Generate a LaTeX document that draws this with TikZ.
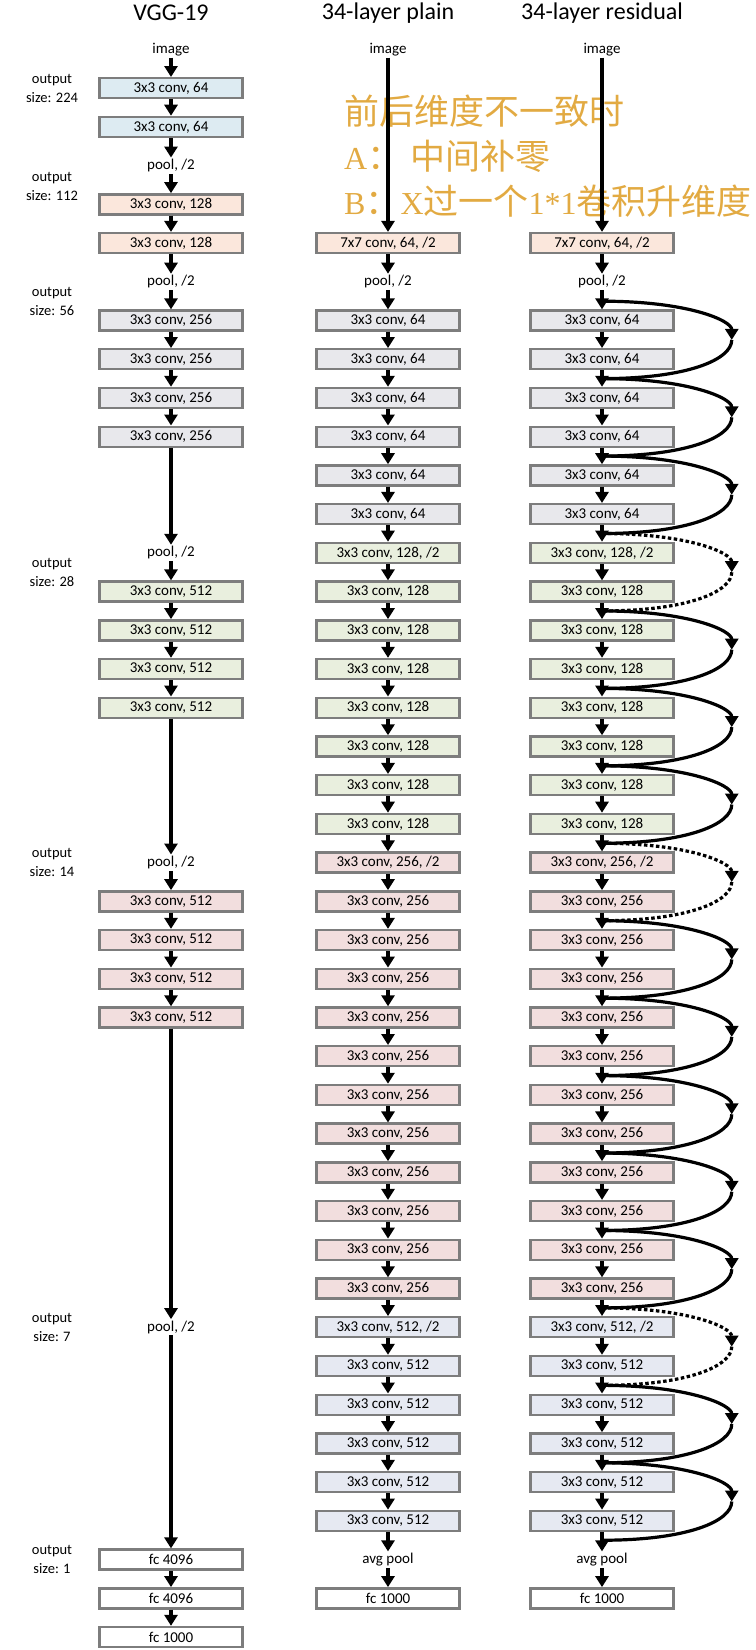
\documentclass[tikz,border=0pt]{standalone}
\usepackage{fontspec}
\setmainfont{Carlito}
\newfontfamily\cjk{Noto Sans CJK SC}
\newfontfamily\noteserif{Liberation Serif}
\usetikzlibrary{arrows.meta}

\definecolor{boxline}{RGB}{125,125,125}
\definecolor{cblue}{RGB}{221,235,242}
\definecolor{cpeach}{RGB}{251,231,220}
\definecolor{cgray}{RGB}{232,232,236}
\definecolor{cgreen}{RGB}{233,239,222}
\definecolor{cpink}{RGB}{242,222,222}
\definecolor{clav}{RGB}{230,233,242}
\definecolor{notegold}{RGB}{226,170,66}

\newcommand\notelatin[1]{{\noteserif\fontsize{32}{45}\selectfont #1}}

\tikzset{
  convbox/.style={draw=boxline, line width=2.4pt, minimum width=143pt,
    minimum height=20pt, inner sep=0pt, font=\fontsize{15}{16}\selectfont},
  tag/.style={inner sep=1.5pt, font=\fontsize{15}{16}\selectfont},
  outlbl/.style={align=center, inner sep=0pt, font=\fontsize{14.5}{19}\selectfont},
  title/.style={font=\fontsize{24}{28}\selectfont},
  shortcut/.style={line width=3.2pt},
  fwd/.style={shortcut, -{Triangle[width=13pt,length=11pt]}},
  zeropad/.style={dash pattern=on 3.5pt off 2.5pt},
}

\begin{document}
\begin{tikzpicture}[x=1pt, y=-38.72pt]
  \useasboundingbox (0,-1.2784) rectangle (755,41.335);

  % titles
  \node[title] (tvgg) at (171,-0.953) {VGG-19};
  \node[title] (tplain) at (388,-0.953) {34-layer plain};
  \node[title] (tres) at (602,-0.953) {34-layer residual};

  % note
  \node[anchor=west, align=left, inner sep=0pt, text=notegold,
        font=\cjk\fontsize{35}{45}\selectfont] (note) at (344,2.75)
    {前后维度不一致时\\\notelatin{A}： 中间补零\\\notelatin{B}：\notelatin{X}过一个\notelatin{1*1}卷积升维度};

  % output sizes
  \node[outlbl] (o224) at (52,1) {output\\size: 224};
  \node[outlbl] (o112) at (52,3.55) {output\\size: 112};
  \node[outlbl] (o56) at (52,6.52) {output\\size: 56};
  \node[outlbl] (o28) at (52,13.5) {output\\size: 28};
  \node[outlbl] (o14) at (52,21) {output\\size: 14};
  \node[outlbl] (o7) at (52,33) {output\\size: 7};
  \node[outlbl] (o1) at (52,39) {output\\size: 1};

  % VGG-19
  \node[tag] (v0) at (171,0) {image};
  \node[convbox, fill=cblue] (v1) at (171,1) {3x3 conv, 64};
  \node[convbox, fill=cblue] (v2) at (171,2) {3x3 conv, 64};
  \node[tag] (v3) at (171,3) {pool, /2};
  \node[convbox, fill=cpeach] (v4) at (171,4) {3x3 conv, 128};
  \node[convbox, fill=cpeach] (v5) at (171,5) {3x3 conv, 128};
  \node[tag] (v6) at (171,6) {pool, /2};
  \foreach \r in {7,...,10}
    \node[convbox, fill=cgray] (v\r) at (171,\r) {3x3 conv, 256};
  \node[tag] (v13) at (171,13) {pool, /2};
  \foreach \r in {14,...,17}
    \node[convbox, fill=cgreen] (v\r) at (171,\r) {3x3 conv, 512};
  \node[tag] (v21) at (171,21) {pool, /2};
  \foreach \r in {22,...,25}
    \node[convbox, fill=cpink] (v\r) at (171,\r) {3x3 conv, 512};
  \node[tag] (v33) at (171,33) {pool, /2};
  \node[convbox, fill=white] (v39) at (171,39) {fc 4096};
  \node[convbox, fill=white] (v40) at (171,40) {fc 4096};
  \node[convbox, fill=white] (v41) at (171,41) {fc 1000};

  \foreach \a/\b in {0/1,1/2,2/3,3/4,4/5,5/6,6/7,7/8,8/9,9/10,10/13,13/14,14/15,
      15/16,16/17,17/21,21/22,22/23,23/24,24/25,25/33,33/39,39/40,40/41}
    \draw[fwd] (v\a) -- (v\b);

  % 34-layer plain and residual
  \foreach \c/\x in {p/388, r/602} {
    \node[tag] (\c0) at (\x,0) {image};
    \node[convbox, fill=cpeach] (\c5) at (\x,5) {7x7 conv, 64, /2};
    \node[tag] (\c6) at (\x,6) {pool, /2};
    \foreach \r in {7,...,12}
      \node[convbox, fill=cgray] (\c\r) at (\x,\r) {3x3 conv, 64};
    \node[convbox, fill=cgreen] (\c13) at (\x,13) {3x3 conv, 128, /2};
    \foreach \r in {14,...,20}
      \node[convbox, fill=cgreen] (\c\r) at (\x,\r) {3x3 conv, 128};
    \node[convbox, fill=cpink] (\c21) at (\x,21) {3x3 conv, 256, /2};
    \foreach \r in {22,...,32}
      \node[convbox, fill=cpink] (\c\r) at (\x,\r) {3x3 conv, 256};
    \node[convbox, fill=clav] (\c33) at (\x,33) {3x3 conv, 512, /2};
    \foreach \r in {34,...,38}
      \node[convbox, fill=clav] (\c\r) at (\x,\r) {3x3 conv, 512};
    \node[tag] (\c39) at (\x,39) {avg pool};
    \node[convbox, fill=white] (\c40) at (\x,40) {fc 1000};

    \draw[fwd] (\c0) -- (\c5);
    \foreach \r [count=\s from 6] in {5,...,39}
      \draw[fwd] (\c\r) -- (\c\s);
  }

  % shortcuts: j = junction on the main path, m = far point of the arc
  \foreach \k in {7,9,...,39}
    \coordinate (j\k) at (602,\k-0.5);
  \foreach \k in {7,9,...,37}
    \coordinate (m\k) at (731.75,\k+0.5);
  \foreach \a/\b/\dash in {7/9/solid,9/11/solid,11/13/solid,13/15/zeropad,
      15/17/solid,17/19/solid,19/21/solid,21/23/zeropad,23/25/solid,25/27/solid,
      27/29/solid,29/31/solid,31/33/solid,33/35/zeropad,35/37/solid,37/39/solid} {
    \draw[fwd, \dash] (j\a) .. controls +(86.5,0) and +(0,-0.5) .. (m\a);
    \draw[shortcut, \dash] (m\a) .. controls +(0,0.5) and +(86.5,0) .. (j\b);
  }
\end{tikzpicture}
\end{document}
